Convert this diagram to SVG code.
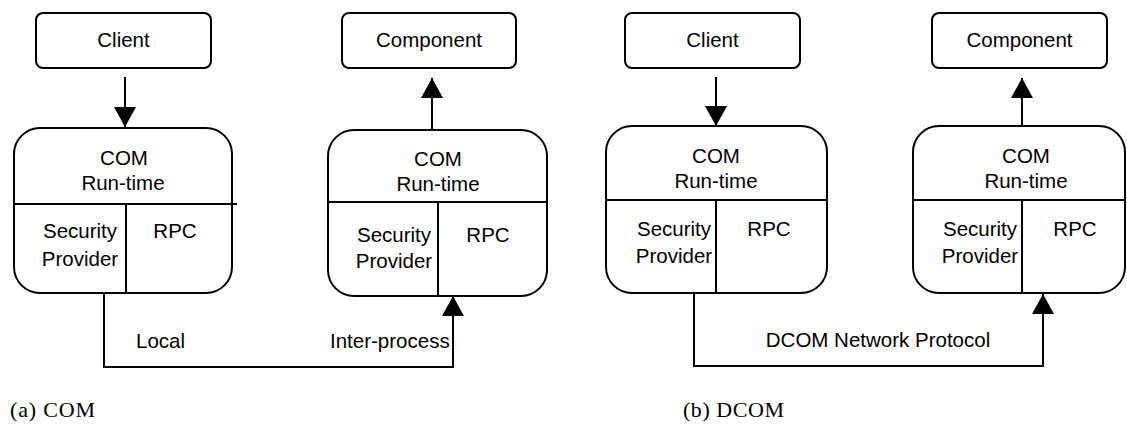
<svg xmlns="http://www.w3.org/2000/svg" width="1127" height="424" viewBox="0 0 1127 424">
<style>
.bx{fill:#fff;stroke:#000;stroke-width:2}
.ln{fill:none;stroke:#000;stroke-width:2}
.t{font-family:"Liberation Sans",Arial,sans-serif;font-size:20.5px;fill:#000}
.c{text-anchor:middle}
.cap{font-family:"Liberation Serif","Times New Roman",serif;font-size:22px;fill:#000}
</style>
<defs>
<marker id="ah" markerUnits="userSpaceOnUse" markerWidth="20" markerHeight="22" viewBox="0 0 20 22" refX="20" refY="11" orient="auto">
<path d="M0,0 L20,11 L0,22 z" fill="#000"/>
</marker>
</defs>
<rect width="1127" height="424" fill="#fff"/>

<g id="connectors">
<line class="ln" x1="125" y1="77" x2="125" y2="127" marker-end="url(#ah)"/>
<line class="ln" x1="432" y1="130" x2="432" y2="78" marker-end="url(#ah)"/>
<polyline class="ln" points="104,293 104,367 453,367 453,296" marker-end="url(#ah)"/>
<line class="ln" x1="716" y1="77" x2="716" y2="126" marker-end="url(#ah)"/>
<line class="ln" x1="1022" y1="126" x2="1022" y2="78" marker-end="url(#ah)"/>
<polyline class="ln" points="694,293 694,366 1043,366 1043,294" marker-end="url(#ah)"/>
<text class="t" x="136" y="348">Local</text>
<text class="t" x="330" y="348">Inter-process</text>
<text class="t c" x="878" y="347">DCOM Network Protocol</text>
</g>

<g id="client-a">
<rect class="bx" x="36" y="13" width="175" height="55" rx="7"/>
<text class="t c" x="123.5" y="47">Client</text>
</g>
<g id="component-a">
<rect class="bx" x="342" y="13" width="174" height="55" rx="7"/>
<text class="t c" x="429" y="47">Component</text>
</g>
<g id="runtime-a1">
<rect class="bx" x="14" y="128" width="218" height="165" rx="26"/>
<line class="ln" x1="14" y1="204" x2="237" y2="204"/>
<line class="ln" x1="126" y1="204" x2="126" y2="293"/>
<text class="t c" x="124" y="165">COM</text>
<text class="t c" x="123" y="190">Run-time</text>
<text class="t c" x="80" y="238">Security</text>
<text class="t c" x="80" y="266">Provider</text>
<text class="t c" x="175" y="238">RPC</text>
</g>
<g id="runtime-a2">
<rect class="bx" x="328" y="130" width="219" height="166" rx="26"/>
<line class="ln" x1="328" y1="202" x2="547" y2="202"/>
<line class="ln" x1="438" y1="202" x2="438" y2="296"/>
<text class="t c" x="438" y="166">COM</text>
<text class="t c" x="438" y="191">Run-time</text>
<text class="t c" x="394" y="242">Security</text>
<text class="t c" x="394" y="268">Provider</text>
<text class="t c" x="488" y="242">RPC</text>
</g>

<g id="client-b">
<rect class="bx" x="625" y="13" width="175" height="55" rx="7"/>
<text class="t c" x="712.5" y="47">Client</text>
</g>
<g id="component-b">
<rect class="bx" x="932" y="13" width="175" height="55" rx="7"/>
<text class="t c" x="1019.5" y="47">Component</text>
</g>
<g id="runtime-b1">
<rect class="bx" x="606" y="126" width="221" height="167" rx="26"/>
<line class="ln" x1="606" y1="200" x2="827" y2="200"/>
<line class="ln" x1="716" y1="200" x2="716" y2="293"/>
<text class="t c" x="716" y="163">COM</text>
<text class="t c" x="716" y="188">Run-time</text>
<text class="t c" x="674" y="236">Security</text>
<text class="t c" x="674" y="263">Provider</text>
<text class="t c" x="769" y="236">RPC</text>
</g>
<g id="runtime-b2">
<rect class="bx" x="913" y="126" width="212" height="167" rx="26"/>
<line class="ln" x1="913" y1="200" x2="1125" y2="200"/>
<line class="ln" x1="1022" y1="200" x2="1022" y2="293"/>
<text class="t c" x="1026" y="163">COM</text>
<text class="t c" x="1026" y="188">Run-time</text>
<text class="t c" x="980" y="236">Security</text>
<text class="t c" x="980" y="263">Provider</text>
<text class="t c" x="1075" y="236">RPC</text>
</g>

<text class="cap" x="10" y="417" textLength="85">(a) COM</text>
<text class="cap" x="683" y="417" textLength="101">(b) DCOM</text>
</svg>
